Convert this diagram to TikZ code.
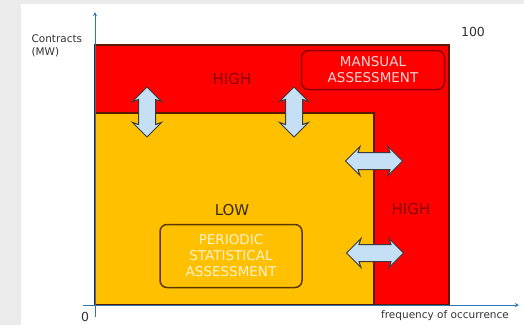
\documentclass[tikz,border=0pt]{standalone}
\usepackage{fontspec}
\setmainfont{DejaVu Sans}
\usetikzlibrary{shapes.arrows,positioning}
\definecolor{pagegray}{HTML}{EBEBEB}
\definecolor{hired}{HTML}{FF0000}
\definecolor{loorange}{HTML}{FFC000}
\definecolor{zoneline}{HTML}{5A1A00}
\definecolor{axisblue}{HTML}{2E75B6}
\definecolor{arrfill}{HTML}{C5E0F4}
\definecolor{arrline}{HTML}{3A3A3A}
\definecolor{hightext}{HTML}{8B0000}
\definecolor{lowtext}{HTML}{3A2A00}
\definecolor{pinktext}{HTML}{FFD6D6}
\definecolor{creamtext}{HTML}{FFF2CC}
\definecolor{boxred}{HTML}{8B0000}
\definecolor{boxbrown}{HTML}{5A3A00}
\definecolor{axistext}{HTML}{333333}

\begin{document}
\begin{tikzpicture}[x=1pt,y=-1pt,>=stealth,
    zone/.style={draw=zoneline,line width=1.2pt},
    axis/.style={draw=axisblue,line width=0.9pt},
    dbl/.style={double arrow, draw=arrline, fill=arrfill, line width=1pt,
        double arrow head extend=6pt, double arrow head indent=2pt,
        inner xsep=0pt, inner ysep=8pt},
    box/.style={rounded corners=7pt, line width=1.5pt, align=center,
        font=\fontsize{13.5}{16}\selectfont},
    lbl/.style={font=\fontsize{15}{18}\selectfont},
    small/.style={text=axistext, font=\fontsize{10.5}{12.5}\selectfont}]

    \fill[pagegray] (0,0) rectangle (524,325);
    \fill[white] (21,4) rectangle (524,325);
    \useasboundingbox (0,0) rectangle (524,325);

    \coordinate (O) at (95,305);
    \draw[zone,fill=hired] (O) rectangle (449,45);
    \draw[zone,fill=loorange] (O) rectangle (374,113);

    \coordinate (ybot) at (95,317);
    \coordinate (ytop) at (95,12);
    \coordinate (xbeg) at (83,305);
    \coordinate (xend) at (519,305);
    \draw[axis,->] (ybot) -- (ytop);
    \draw[axis,->] (xbeg) -- (xend);

    \node[small, align=left, anchor=west] (yl) at (28,46) {Contracts\\(MW)};
    \node[text=axistext, font=\fontsize{12.5}{14}\selectfont] (top) at (473,32) {100};
    \node[text=axistext, font=\fontsize{12.5}{14}\selectfont] (zero) at (85,317) {0};
    \node[small] (xl) at (445,316) {frequency of occurrence};

    \node[lbl, text=hightext] (hiTop) at (232,79) {HIGH};
    \node[box, draw=boxred, text=pinktext, minimum width=143pt,
        minimum height=39pt] (manual) at (373,70) {MANSUAL\\ASSESSMENT};
    \node[lbl, text=lowtext] (low) at (232,210) {LOW};
    \node[box, draw=boxbrown, text=creamtext, minimum width=142pt,
        minimum height=63pt] (periodic) at (231,256) {PERIODIC\\STATISTICAL\\ASSESSMENT};
    \node[lbl, text=hightext] (hiRight) at (411,209) {HIGH};

    \node[dbl, rotate=90, minimum height=50pt] (up1) at (147,112) {};
    \node[dbl, rotate=90, minimum height=50pt] (up2) at (294,112) {};
    \node[dbl, minimum height=57pt] (side1) at (374,161) {};
    \node[dbl, minimum height=57pt] (side2) at (375,253) {};
\end{tikzpicture}
\end{document}
